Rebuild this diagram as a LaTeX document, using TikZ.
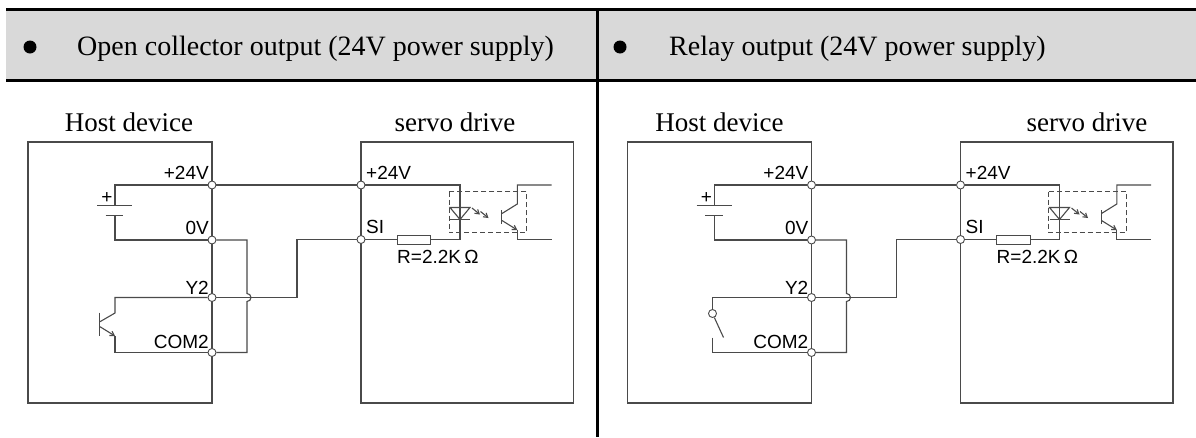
\documentclass[tikz,border=0pt]{standalone}
\usepackage{fontspec}
\setmainfont{Liberation Serif}
\setsansfont{Liberation Sans}
\usetikzlibrary{arrows.meta}
\definecolor{hdrgray}{HTML}{D9D9D9}
\definecolor{wirec}{HTML}{4A4A4A}
\tikzset{
  wire/.style={draw=wirec, line width=1.1pt},
  boxline/.style={draw=wirec, line width=1.3pt},
  term/.style={circle, draw=wirec, fill=white, line width=0.9pt, inner sep=0pt, minimum size=8pt},
  elbl/.style={font=\sffamily\fontsize{19}{20}\selectfont, inner sep=0pt},
  ttl/.style={font=\fontsize{27}{30}\selectfont, inner sep=0pt, anchor=base},
  hdr/.style={font=\fontsize{28}{32}\selectfont, inner sep=0pt, anchor=base west},
  rulebar/.style={draw=black, line width=3pt},
  tipped/.style={-{Straight Barb[length=4pt,width=5pt]}},
  dbox/.style={draw=wirec, line width=0.9pt, dash pattern=on 5pt off 3pt},
}
\newcommand\panelcommon{%
  \draw[boxline] (28,142) rectangle (212,403);
  \draw[boxline] (361,142) rectangle (573.5,403);
  % battery
  \coordinate (bt) at (115,205.5);
  \coordinate (bb) at (115,215.5);
  \draw[wire] (97,205.5) -- (132,205.5);
  \draw[wire] (105.5,215.5) -- (123,215.5);
  \node[elbl] (plus) at (107,198) {+};
  % optocoupler
  \node[draw=wirec, line width=1pt, minimum width=33.5pt, minimum height=9pt, inner sep=0pt] (res) at (414,239.5) {};
  \coordinate (ledb) at (460,239.5);
  \draw[dbox] (449,191.7) rectangle (526.7,232.7);
  \draw[wire] (450,207.5) -- (470,207.5) -- (460,219.5) -- cycle;
  \draw[wire] (450,219.5) -- (470,219.5);
  \draw[wire, tipped] (472,208) -- (480,214.5);
  \draw[wire, tipped] (480.5,211.5) -- (488.5,218);
  \draw[wire] (501.7,210) -- (501.7,224);
  \draw[wire] (502,213.5) -- (517.3,204) -- (517.3,185) -- (551.7,185);
  \draw[wire, tipped] (502,220.5) -- (517.3,230);
  \draw[wire] (517.3,230) -- (517.3,239.5) -- (551.7,239.5);
  % terminals
  \node[term] (hp) at (212,185) {};
  \node[term] (h0) at (212,240) {};
  \node[term] (hy) at (212,297.5) {};
  \node[term] (hc) at (212,352.5) {};
  \node[term] (sp) at (361,185) {};
  \node[term] (ss) at (361,239.5) {};
  % wiring
  \draw[wire] (hp) -| (bt);
  \draw[wire] (h0) -| (bb);
  \draw[wire] (hp) -- (sp);
  \draw[wire] (h0) -- (247,240) -- (247,293.5) arc[start angle=90, end angle=-90, radius=4pt] -- (247,352.5) -- (hc);
  \draw[wire] (ss) -- (297,239.5) |- (hy);
  \draw[wire] (ss) -- (res);
  \draw[wire] (sp) -| (ledb) -- (res);
  % labels
  \node[elbl, anchor=base east] (l24) at (209,179) {+24V};
  \node[elbl, anchor=base east] (l0) at (209,234) {0V};
  \node[elbl, anchor=base east] (ly) at (209,294) {Y2};
  \node[elbl, anchor=base east] (lc) at (209,348) {COM2};
  \node[elbl, anchor=base west] (s24) at (366,179) {+24V};
  \node[elbl, anchor=base west] (ssi) at (366,233) {SI};
  \node[elbl, anchor=base west] (lr) at (397,263) {R=2.2K\,Ω};
}
\begin{document}
\begin{tikzpicture}[x=1pt, y=-1pt]
  \useasboundingbox (0,0) rectangle (1196,437);
  % header band
  \fill[hdrgray] (6,9) rectangle (1196,80);
  \draw[rulebar] (6,9) -- (1196,9);
  \draw[rulebar] (6,80) -- (1196,80);
  \draw[rulebar] (597,9) -- (597,437);
  \fill (30,47) circle (6.5pt);
  \fill (620,47) circle (6.5pt);
  \node[hdr] (h1) at (77,55) {Open collector output (24V power supply)};
  \node[hdr] (h2) at (669,55) {Relay output (24V power supply)};
  % titles
  \node[ttl] (t1) at (129,131) {Host device};
  \node[ttl] (t2) at (455,131) {servo drive};
  \node[ttl] (t3) at (719.5,131) {Host device};
  \node[ttl] (t4) at (1087,131) {servo drive};
  % left panel
  \begin{scope}[name prefix=L-]
    \panelcommon
    \draw[wire] (hy) -| (115,313) -- (100,321.7);
    \draw[wire] (99.5,312.7) -- (99.5,336);
    \draw[wire, tipped] (100,326.7) -- (115,336);
    \draw[wire] (115,336) |- (hc);
  \end{scope}
  % right panel
  \begin{scope}[xshift=599.5pt, name prefix=R-]
    \panelcommon
    \node[term] (sw) at (113,313.5) {};
    \draw[wire] (hy) -| (sw);
    \draw[wire] (sw) -- (124,337.5);
    \draw[wire] (113,337.5) |- (hc);
  \end{scope}
\end{tikzpicture}
\end{document}
